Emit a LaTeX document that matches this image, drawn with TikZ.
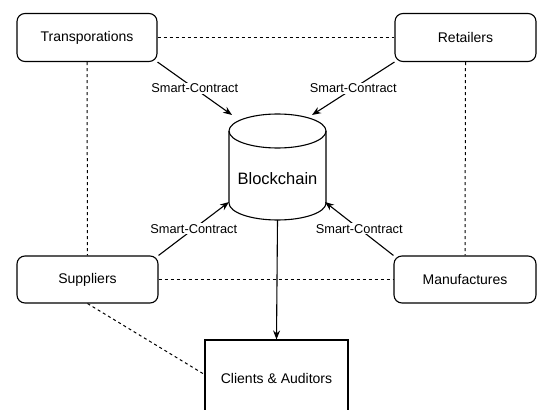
\documentclass[tikz,border=0pt]{standalone}
\usepackage{fontspec}
\setmainfont{Liberation Sans}
\usetikzlibrary{arrows.meta}
\begin{document}
\begin{tikzpicture}[x=1pt,y=-1pt,
  ln/.style={line width=1.1pt},
  box/.style={ln,draw,rounded corners=8pt,minimum width=140pt,minimum height=48pt,inner sep=0pt,font=\fontsize{14}{16}\selectfont},
  dsh/.style={line width=1pt,dash pattern=on 3pt off 3pt},
  arr/.style={ln,-{Stealth[length=9pt,width=7pt]}},
  lbl/.style={fill=white,inner sep=1pt,font=\fontsize{12.8}{14}\selectfont}]
\useasboundingbox (0,0) rectangle (537,409);
\node[box] (tr) at (87,37.5) {Transporations};
\node[box,minimum width=141pt] (re) at (465.5,37.5) {Retailers};
\node[box,minimum width=141pt,minimum height=47pt] (su) at (87.5,279.5) {Suppliers};
\node[box,minimum width=142pt,minimum height=47pt] (ma) at (465,279.5) {Manufactures};
\node[ln,draw,minimum width=143pt,minimum height=80pt,inner sep=0pt,font=\fontsize{14}{16}\selectfont] (cl) at (276.5,380) {\raisebox{4pt}{Clients \& Auditors}};
% cylinder
\draw[ln,fill=white] (229,131) -- (229,203) arc[start angle=180,end angle=360,x radius=48.5pt,y radius=17pt] -- (326,131);
\draw[ln] (277.5,131) ellipse [x radius=48.5pt,y radius=17pt];
\node[font=\fontsize{16.5}{18}\selectfont] (bc) at (277.5,179) {Blockchain};
\coordinate (bcTL) at (232,115);
\coordinate (bcTR) at (312,115);
\coordinate (bcBL) at (229,202);
\coordinate (bcBR) at (325,202);
\coordinate (bcB) at (277.5,220);
% dashed
\draw[dsh] (tr.east) -- (re.west);
\draw[dsh] (su.east) -- (ma.west);
\draw[dsh] (tr.south) -- (su.north);
\draw[dsh] (re.south) -- (ma.north);
\draw[dsh] (su.south) -- ([yshift=-35pt]cl.north west);
% arrows
\draw[arr] (tr.south east) -- node[lbl] {Smart-Contract} (bcTL);
\draw[arr] (re.south west) -- node[lbl] {Smart-Contract} (bcTR);
\draw[arr] (su.north east) -- node[lbl] {Smart-Contract} (bcBL);
\draw[arr] (ma.north west) -- node[lbl] {Smart-Contract} (bcBR);
\draw[arr] (bcB) -- (cl.north);
\end{tikzpicture}
\end{document}
